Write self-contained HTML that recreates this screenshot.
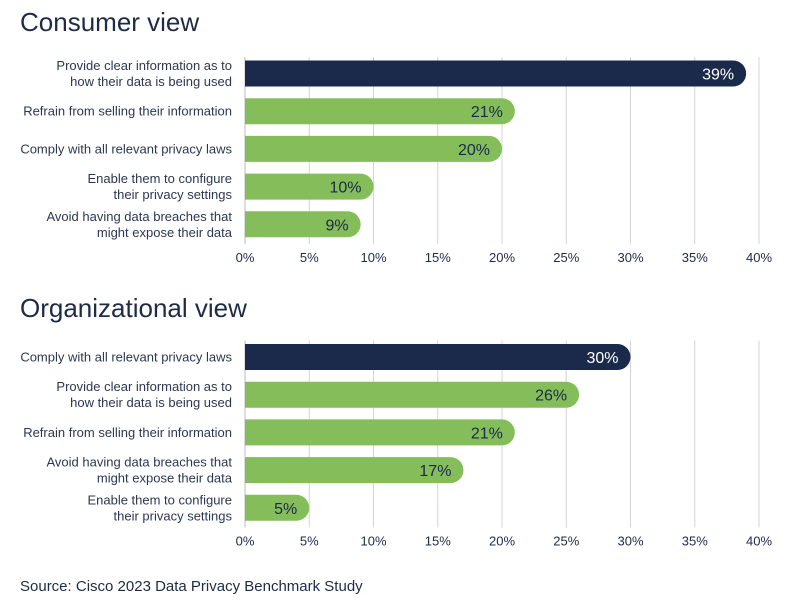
<!DOCTYPE html>
<html><head><style>
body{margin:0;background:#fff;}
svg text{font-family:"Liberation Sans",sans-serif;}
</style></head><body>
<svg width="810" height="610" viewBox="0 0 810 610">
<text x="20" y="31" font-size="26" fill="#1e2b45">Consumer view</text>
<text x="20" y="317" font-size="26" fill="#1e2b45">Organizational view</text>
<text x="20" y="591" font-size="15" fill="#1e2b45">Source: Cisco 2023 Data Privacy Benchmark Study</text>
<script>
(function(){
var ns="http://www.w3.org/2000/svg",svg=document.querySelector('svg');
function el(t,a,txt){var e=document.createElementNS(ns,t);for(var k in a)e.setAttribute(k,a[k]);if(txt!=null)e.textContent=txt;svg.appendChild(e);return e;}
var x0=245,sc=12.85;
function chart(off,data){
 for(var i=0;i<=8;i++){var x=x0+i*5*sc;
  el('line',{x1:x,x2:x,y1:57+off,y2:244+off,stroke:i==0?'#bbb':'#d4d4d4','stroke-width':1});
  el('text',{x:x,y:262+off,'font-size':13,'text-anchor':'middle',fill:'#1e2b45'},(i*5)+'%');}
 data.forEach(function(d,j){
  var yc=73.5+off+j*37.7,h=26,w=d[1]*sc,r=13;
  var col=j==0?'#1b2a4a':'#84bd5a';
  el('path',{d:'M'+x0+' '+(yc-h/2)+'H'+(x0+w-r)+'A'+r+' '+r+' 0 0 1 '+(x0+w-r)+' '+(yc+h/2)+'H'+x0+'Z',fill:col});
  el('text',{x:x0+w-12,y:yc+6,'font-size':16,'text-anchor':'end',fill:j==0?'#fff':'#1b2a4a'},d[1]+'%');
  var ls=d[0];
  if(ls.length==1)el('text',{x:232,y:yc+4.5,'font-size':13,'text-anchor':'end',fill:'#2b3850'},ls[0]);
  else{el('text',{x:232,y:yc-3.5,'font-size':13,'text-anchor':'end',fill:'#2b3850'},ls[0]);
       el('text',{x:232,y:yc+12.5,'font-size':13,'text-anchor':'end',fill:'#2b3850'},ls[1]);}
 });
}
var A=['Provide clear information as to','how their data is being used'],B=['Refrain from selling their information'],C=['Comply with all relevant privacy laws'],D=['Enable them to configure','their privacy settings'],E=['Avoid having data breaches that','might expose their data'];
chart(0,[[A,39],[B,21],[C,20],[D,10],[E,9]]);
chart(283.5,[[C,30],[A,26],[B,21],[E,17],[D,5]]);
})();
</script>
</svg>
</body></html>
